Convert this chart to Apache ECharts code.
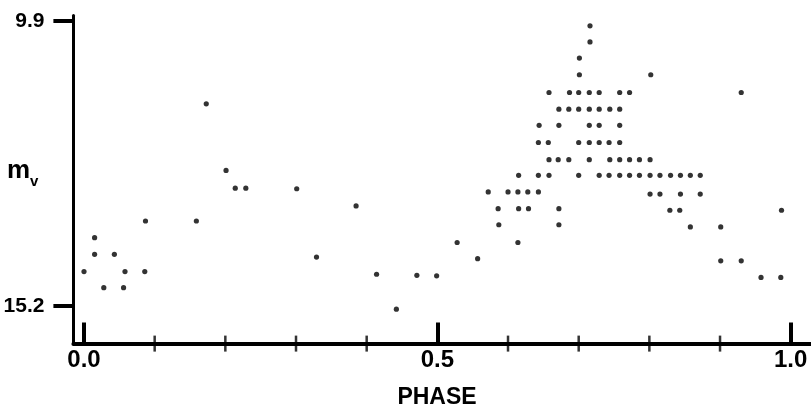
<!DOCTYPE html>
<html>
<head>
<meta charset="utf-8">
<script src="https://cdn.jsdelivr.net/npm/echarts@6/dist/echarts.min.js"></script>
<style>
html,body{margin:0;padding:0;background:#fff;}
#chart{width:811px;height:414px;}
</style>
</head>
<body>
<div id="chart"></div>
<script>
// Magnitude of each row of points and the phases of the points on that row
const rowMag = [9.99, 10.29, 10.59, 10.90, 11.23, 11.44, 11.54, 11.84, 12.16, 12.48,
  12.68, 12.77, 13.01, 13.02, 13.08, 13.12, 13.34, 13.39, 13.42, 13.62, 13.69, 13.73,
  13.93, 14.02, 14.24, 14.29, 14.32, 14.36, 14.56, 14.61, 14.63, 14.64, 14.67, 14.86, 15.26];
const rowPhases = [
  [0.716],
  [0.716],
  [0.701],
  [0.701, 0.802],
  [0.658, 0.687, 0.700, 0.715, 0.729, 0.758, 0.772, 0.930],
  [0.173],
  [0.672, 0.686, 0.700, 0.715, 0.729, 0.744, 0.758],
  [0.644, 0.672, 0.715, 0.729, 0.758],
  [0.643, 0.657, 0.700, 0.715, 0.729, 0.743, 0.758],
  [0.658, 0.671, 0.686, 0.715, 0.744, 0.758, 0.772, 0.786, 0.801],
  [0.201],
  [0.615, 0.643, 0.658, 0.700, 0.729, 0.743, 0.758, 0.772, 0.786, 0.801, 0.815, 0.830, 0.844, 0.858, 0.872],
  [0.214, 0.229],
  [0.301],
  [0.572, 0.600, 0.614, 0.628, 0.643],
  [0.801, 0.815, 0.844, 0.872],
  [0.385],
  [0.586, 0.615, 0.629, 0.672],
  [0.829, 0.843, 0.987],
  [0.087, 0.159],
  [0.587, 0.672],
  [0.858, 0.901],
  [0.015],
  [0.528, 0.614],
  [0.015, 0.043],
  [0.329],
  [0.557],
  [0.901, 0.930],
  [0.000, 0.058, 0.086],
  [0.414],
  [0.471],
  [0.499],
  [0.958, 0.986],
  [0.028, 0.056],
  [0.442]
];
const xMajorTicks = [0.0, 0.5, 1.0];
const xMinorTicks = [0.1, 0.2, 0.3, 0.4, 0.6, 0.7, 0.8, 0.9];
const yTicks = [9.9, 15.2];
const xTitle = 'PHASE';

const points = [];
rowMag.forEach((m, i) => rowPhases[i].forEach(p => points.push([p, m])));

const FONT = '"Liberation Sans", Arial, sans-serif';
const X_MIN = -0.015, X_MAX = 1.03;
const Y_MIN = 9.8, Y_MAX = 15.9;

const chart = echarts.init(document.getElementById('chart'), null, {renderer: 'canvas'});
chart.setOption({
  backgroundColor: '#fff',
  animation: false,
  grid: {left: 73.4, top: 15.6, width: 738.5, height: 328, containLabel: false, outerBoundsMode: 'none'},
  xAxis: {
    type: 'value', min: X_MIN, max: X_MAX, position: 'bottom',
    splitLine: {show: false},
    axisLine: {show: true, onZero: false, lineStyle: {color: '#000', width: 4}},
    axisTick: {show: true, inside: true, length: 21, lineStyle: {color: '#000', width: 4},
      customValues: xMajorTicks},
    axisLabel: {show: true, customValues: xMajorTicks, margin: 5,
      formatter: v => v.toFixed(1),
      color: '#000', fontFamily: FONT, fontWeight: 'bold', fontSize: 24}
  },
  yAxis: {
    type: 'value', inverse: true, min: Y_MIN, max: Y_MAX,
    splitLine: {show: false},
    axisLine: {show: true, onZero: false, lineStyle: {color: '#000', width: 3}},
    axisTick: {show: true, inside: false, length: 20, lineStyle: {color: '#000', width: 4},
      customValues: yTicks},
    axisLabel: {show: true, customValues: yTicks, margin: 29,
      formatter: v => v.toFixed(1),
      color: '#000', fontFamily: FONT, fontWeight: 'bold', fontSize: 21}
  },
  graphic: [{
    type: 'text', left: 7, top: 158,
    style: {
      text: '{m|m}{v|v}',
      rich: {
        m: {fontFamily: FONT, fontWeight: 'bold', fontSize: 26, fill: '#000', verticalAlign: 'bottom'},
        v: {fontFamily: FONT, fontWeight: 'bold', fontSize: 15, fill: '#000', verticalAlign: 'bottom', padding: [0, 0, -5, 0]}
      }
    }
  }, {
    type: 'text', x: 437, y: 398,
    style: {text: xTitle, fontFamily: FONT, fontWeight: 'bold', fontSize: 23, fill: '#000',
      align: 'center', verticalAlign: 'middle'}
  }],
  series: [{
    type: 'scatter',
    data: points, symbol: 'circle', symbolSize: 5.2,
    itemStyle: {color: '#000'}, silent: true, z: 3
  }, {
    // minor 0.1 ticks of the phase axis: thin bars standing on the axis line
    type: 'scatter', silent: true, z: 10, clip: false,
    data: xMinorTicks.map(v => [v, Y_MAX]),
    symbol: 'rect', symbolSize: [2.5, 16], symbolOffset: [0, 0],
    itemStyle: {color: '#000'}
  }]
});
</script>
</body>
</html>
